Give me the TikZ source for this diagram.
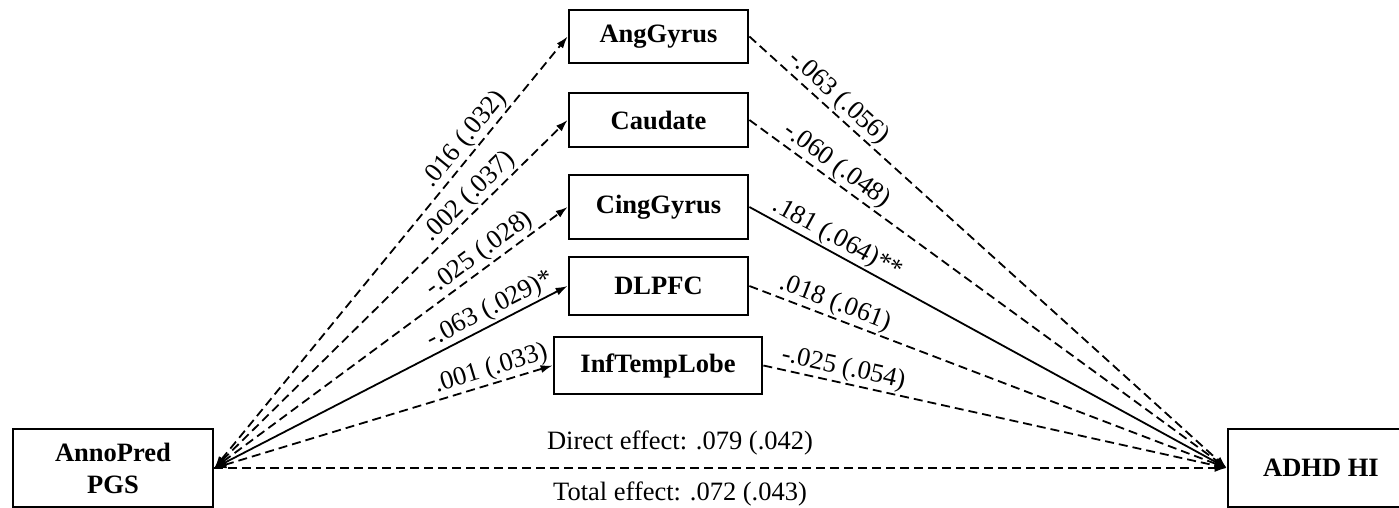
\documentclass[tikz,border=0pt]{standalone}
\usepackage{fontspec}
\setmainfont{Liberation Serif}
\usetikzlibrary{arrows.meta}
\begin{document}
\begin{tikzpicture}[x=1pt,y=-1pt,
  box/.style={draw, line width=2.8pt, font=\fontsize{26.5}{32}\selectfont\bfseries, inner sep=0pt, align=center},
  conn/.style={line width=1.8pt},
  dsh/.style={conn, dash pattern=on 9pt off 5pt},
  lbl/.style={font=\fontsize{26.5}{30}\selectfont, sloped, above, inner sep=1.5pt},
  elbl/.style={font=\fontsize{26.5}{30}\selectfont, anchor=base, inner sep=0pt},
  >={Latex[length=12pt,width=8pt]}]
\useasboundingbox (0,0) rectangle (1399,508);

% nodes
\node[box, minimum width=179pt, minimum height=53pt] (ang) at (658.5,36.5) {AngGyrus};
\node[box, minimum width=179pt, minimum height=54pt] (cau) at (658.5,120) {Caudate};
\node[box, minimum width=179pt, minimum height=64pt] (cing) at (658.5,207) {CingGyrus};
\node[box, minimum width=179pt, minimum height=58pt] (dlp) at (658.5,286) {DLPFC};
\node[box, minimum width=208pt, minimum height=57pt] (inf) at (658,365.5) {InfTempLobe};
\node[box, minimum width=200pt, minimum height=78pt] (anno) at (113,468) {AnnoPred\\PGS};
\node[box, minimum width=186pt, minimum height=78pt] (adhd) at (1321,468) {ADHD HI};

% a paths
\draw[dsh,<->] (anno.east) -- node[lbl,pos=0.74]{.016 (.032)} (ang.west);
\draw[dsh,<->] (anno.east) -- node[lbl,pos=0.75]{.002 (.037)} (cau.west);
\draw[dsh,<->] (anno.east) -- node[lbl,pos=0.775]{-.025 (.028)} (cing.west);
\draw[conn,<->] (anno.east) -- node[lbl,pos=0.80]{-.063 (.029)*} (dlp.west);
\draw[dsh,<->] (anno.east) -- node[lbl,pos=0.83]{.001 (.033)} (inf.west);

% b paths
\draw[dsh,->] (ang.east) -- node[lbl,pos=0.167]{-.063 (.056)} (adhd.west);
\draw[dsh,->] (cau.east) -- node[lbl,pos=0.165]{-.060 (.048)} (adhd.west);
\draw[conn,->] (cing.east) -- node[lbl,pos=0.17]{.181 (.064)**} (adhd.west);
\draw[dsh,->] (dlp.east) -- node[lbl,pos=0.17]{.018 (.061)} (adhd.west);
\draw[dsh,->] (inf.east) -- node[lbl,pos=0.166]{-.025 (.054)} (adhd.west);

% direct path
\draw[dsh,->] (anno.east) --
  node[elbl,pos=0.46,yshift=19pt]{Direct effect: .079 (.042)}
  node[elbl,pos=0.46,yshift=-32pt]{Total effect: .072 (.043)}
  (adhd.west);
\end{tikzpicture}
\end{document}
